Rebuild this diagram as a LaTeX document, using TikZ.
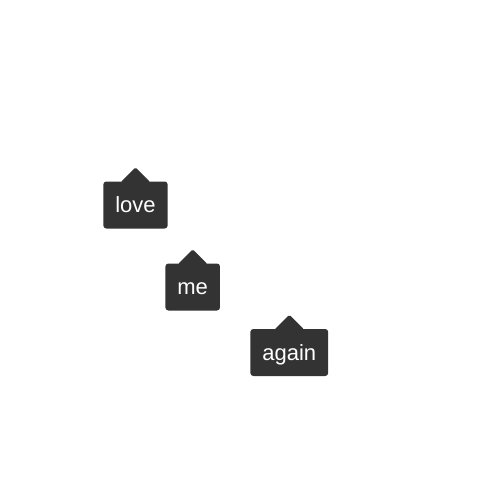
\documentclass[tikz,border=0pt]{standalone}
\usepackage{fontspec}
\setmainfont{Liberation Sans}
\definecolor{tagdark}{HTML}{333333}
\begin{document}
\begin{tikzpicture}[x=1pt,y=-1pt,
  tag/.style={fill=tagdark,text=white,rounded corners=3pt,font=\fontsize{22}{26}\selectfont,
    inner xsep=12pt,minimum height=47pt,text height=18pt,text depth=3pt}]
  \useasboundingbox (0,0) rectangle (500,500);
  \node[tag] (love) at (135.5,205) {love};
  \node[tag] (me) at (192.7,287) {me};
  \node[tag] (again) at (289.3,352.5) {again};
  \foreach \n in {love,me,again}
    \fill[tagdark,rounded corners=1.5pt] ([xshift=-15pt,yshift=-1pt]\n.north) -- ([yshift=14pt]\n.north) -- ([xshift=15pt,yshift=-1pt]\n.north) -- cycle;
\end{tikzpicture}
\end{document}
